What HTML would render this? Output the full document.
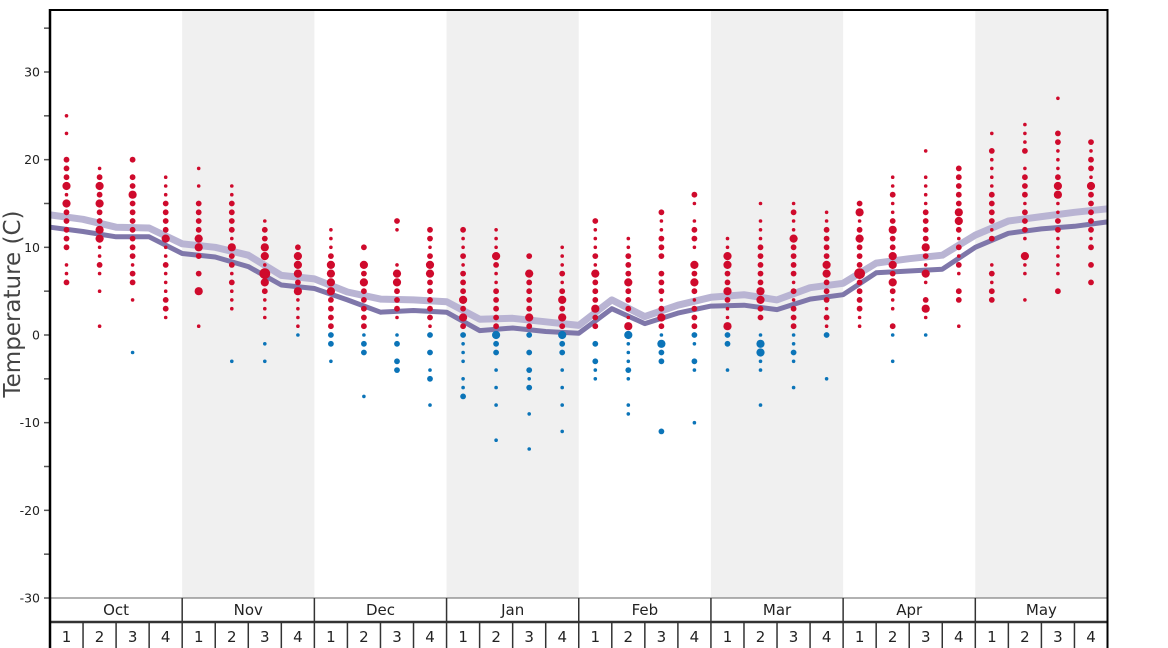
<!DOCTYPE html>
<html><head><meta charset="utf-8"><style>
html,body{margin:0;padding:0;background:#fff;}
svg{display:block;font-family:"DejaVu Sans","Liberation Sans",sans-serif;}
</style></head><body>
<svg id="c" width="1168" height="648" xmlns="http://www.w3.org/2000/svg">
<rect x="0" y="0" width="1168" height="648" fill="#fff"/>
<g id="bands"></g>
<g id="lines"></g>
<g id="dots"></g>
<g id="axes"></g>
<text x="20" y="304" transform="rotate(-90 20 304)" text-anchor="middle" font-size="23" fill="#444">Temperature (C)</text>
</svg>
<script>
const NS="http://www.w3.org/2000/svg";
const X0=50,X1=1107.5,W=(X1-X0)/32;
const Y=t=>335-t*8.767;
function el(p,tag,a,txt){const e=document.createElementNS(NS,tag);for(const k in a)e.setAttribute(k,a[k]);if(txt!==undefined)e.textContent=txt;p.appendChild(e);return e;}
const bands=document.getElementById('bands'),lines=document.getElementById('lines'),dots=document.getElementById('dots'),axes=document.getElementById('axes');
[1,3,5,7].forEach(m=>el(bands,'rect',{x:X0+m*4*W,y:10,width:4*W,height:588,fill:'#f0f0f0'}));
const light=[13.7,13.2,12.3,12.2,10.4,10.0,9.1,6.8,6.4,4.9,4.1,4.0,3.8,1.8,1.9,1.5,1.1,4.0,2.1,3.4,4.3,4.6,4.0,5.4,5.9,8.2,8.7,9.1,11.4,13.0,13.5,14.0,14.4];
const dark=[12.3,11.8,11.2,11.2,9.3,8.9,7.8,5.7,5.3,4.0,2.6,2.8,2.6,0.5,0.8,0.4,0.2,3.0,1.3,2.5,3.3,3.4,2.9,4.1,4.6,7.1,7.3,7.5,10.0,11.6,12.1,12.4,12.9];
function pl(v,c,w){el(lines,'polyline',{points:v.map((t,k)=>(X0+k*W).toFixed(1)+','+Y(t).toFixed(1)).join(' '),fill:'none',stroke:c,'stroke-width':w,'stroke-linejoin':'round'});}
pl(light,'#b9b4d3',7);pl(dark,'#7f77aa',5);
const D=[
"25s 23s 20m 19m 18m 17L 16s 15L 14m 13m 12m 11m 10m 8s 7s 6m",
"19s 18m 17L 16m 15L 14m 13m 12L 11L 10s 9s 8m 7s 5s 1s",
"20m 18m 17m 16L 15m 14m 13m 12m 11m 10m 9m 8s 7m 6m 4s -2s",
"18s 17s 16s 15m 14m 13m 12m 11L 10s 9s 8m 7s 6s 5s 4m 3m 2s",
"19s 17s 15m 14m 13m 12m 11L 10L 9m 7m 5L 1s",
"17s 16s 15m 14m 13m 12m 11s 10L 9m 8m 7s 6m 5s 4s 3s -3s",
"13s 12m 11m 10L 9L 8s 7X 6L 5m 4s 3s 2s -1s -3s",
"10m 9L 8L 7L 6m 5L 4s 3s 2s 1s 0s",
"12s 11s 10s 9m 8L 7L 6L 5L 4m 3m 2m 1m 0m -1m -3s",
"10m 8L 7m 6L 5m 4m 3m 2m 1m 0s -1m -2m -7s",
"13m 12s 8s 7L 6L 5m 4m 3m 2s 0s -1m -3m -4m",
"12m 11m 10s 9m 8L 7L 6m 5m 4m 3m 2m 1s 0m -2m -4s -5m -8s",
"12m 11s 10s 9m 8s 7m 6m 5m 4L 3m 2L 1m 0m -1s -2s -3s -5s -6s -7m",
"12s 11s 10s 9L 8m 7s 6s 5m 4m 3m 2m 1m 0L -1m -2m -4s -6s -8s -12s",
"9m 7L 6m 5m 4m 3m 2L 1m 0m -2m -4m -5s -6m -9s -13s",
"10s 9s 8s 7m 6s 5m 4L 3m 2L 1m 0L -1m -2m -4s -6s -8s -11s",
"13m 12s 11s 10s 9m 8s 7L 6m 5m 4m 3L 2m 1m -1m -3m -4s -5s",
"11s 10s 9m 8m 7m 6L 5m 4m 3m 2s 1L 0L -1s -2s -3s -4m -5s -8s -9s",
"14m 13s 12s 11m 10m 9m 7m 6m 5m 4s 3m 2L 1m 0s -1L -2m -3m -11m",
"16m 15s 13s 12m 11m 10s 8L 7m 6L 5m 4s 3m 2m 1m 0m -1s -3m -4s -10s",
"11s 10s 9L 8L 7m 6m 5L 4m 3s 2s 1L 0m -1m -4s",
"15s 13s 12s 11s 10m 9m 8m 7m 6m 5L 4L 3m 2m 0s -1L -2L -3s -4s -8s",
"15s 14m 13s 12s 11L 10m 9m 8m 7m 6s 5m 4s 3m 2m 1m 0s -1s -2m -3s -6s",
"14s 13s 12m 11m 10m 9m 8L 7L 6m 5m 4m 3s 2m 1s 0m -5s",
"15m 14L 13s 12m 11L 10m 9m 8m 7X 6m 5m 4m 3m 2s 1s",
"18s 17s 16m 15s 14s 13m 12L 11m 10m 9L 8L 7m 6L 5m 4s 3s 1m 0s -3s",
"21s 18s 17s 16s 15s 14m 13m 12m 11m 10L 9m 8s 7L 6s 4m 3L 2s 0s",
"19m 18m 17m 16m 15m 14L 13L 12m 11s 10m 9s 8m 7s 5m 4m 1s",
"23s 21m 20s 19s 18s 17s 16m 15m 14m 13m 12s 11m 8s 7m 6s 5m 4m",
"24s 23s 22s 21m 19s 18m 17m 16m 15s 14m 13m 12m 11s 9L 8s 7s 4s",
"27s 23m 22m 21s 20s 19s 18m 17L 16L 15s 14s 13m 12m 11s 10s 9s 8s 7s 5m",
"22m 21s 20m 19m 18s 17L 16m 15m 14m 13m 12m 11s 10m 8m 6m"];
const R={s:1.8,m:2.9,L:4.1,X:5.4};
D.forEach((s,i)=>{const cx=X0+(i+0.5)*W;s.split(' ').forEach(tok=>{const sz=tok.slice(-1),t=parseFloat(tok);el(dots,'circle',{cx:cx.toFixed(1),cy:Y(t).toFixed(1),r:R[sz],fill:t>0?'#cf0a2c':'#0b74b8'});});});
for(let t=-30;t<=35;t+=5){const y=Y(t);el(axes,'line',{x1:44,x2:50,y1:y,y2:y,stroke:'#555','stroke-width':1.5});if(t%10===0)el(axes,'text',{x:40,y:y+4.5,'text-anchor':'end','font-size':12.5,fill:'#222'},String(t));}
el(axes,'line',{x1:X0,x2:X1,y1:10,y2:10,stroke:'#000','stroke-width':2});
el(axes,'line',{x1:X0,x2:X1,y1:598,y2:598,stroke:'#666','stroke-width':1});
el(axes,'line',{x1:X0,x2:X1,y1:622,y2:622,stroke:'#333','stroke-width':2.5});
el(axes,'line',{x1:X0,x2:X0,y1:9,y2:648,stroke:'#000','stroke-width':2.5});
el(axes,'line',{x1:X1,x2:X1,y1:9,y2:648,stroke:'#000','stroke-width':2});
const M=['Oct','Nov','Dec','Jan','Feb','Mar','Apr','May'];
M.forEach((m,i)=>{const x=X0+i*4*W;if(i>0)el(axes,'line',{x1:x,x2:x,y1:598,y2:648,stroke:'#333','stroke-width':1.5});el(axes,'text',{x:x+2*W,y:615,'text-anchor':'middle','font-size':15,fill:'#222'},m);
for(let w=0;w<4;w++){const wx=x+w*W;if(w>0)el(axes,'line',{x1:wx,x2:wx,y1:622,y2:648,stroke:'#333','stroke-width':1.5});el(axes,'text',{x:wx+W/2,y:642,'text-anchor':'middle','font-size':15,fill:'#222'},String(w+1));}});
</script>
</body></html>
